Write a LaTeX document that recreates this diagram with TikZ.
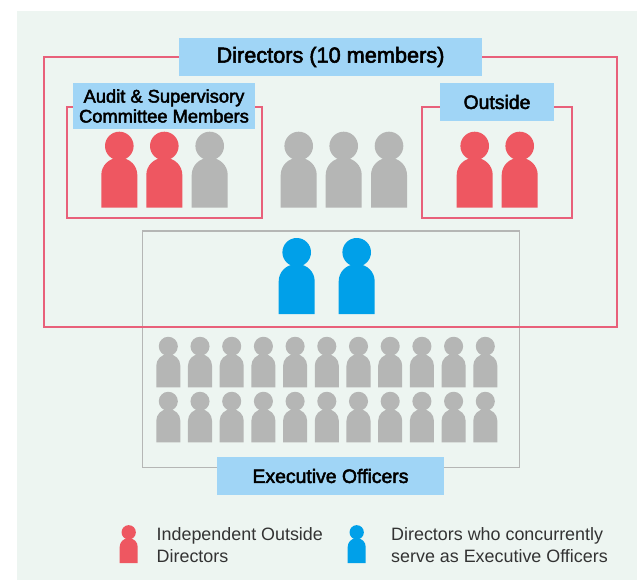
\documentclass[tikz,border=0pt]{standalone}
\usepackage{fontspec}
\setmainfont{Liberation Sans}
\newfontfamily\labelfont[FakeBold=2.5]{Liberation Sans}
\definecolor{bgtint}{HTML}{EDF5F1}
\definecolor{framered}{HTML}{E8607A}
\definecolor{personred}{HTML}{EE5761}
\definecolor{persongray}{HTML}{B5B6B5}
\definecolor{personblue}{HTML}{00A0E9}
\definecolor{labelblue}{HTML}{A0D5F6}
\definecolor{legendgray}{HTML}{333333}
\tikzset{
  redframe/.style={draw=framered, line width=2pt},
  grayframe/.style={draw=persongray, line width=1.5pt},
  labelbox/.style={fill=labelblue, inner sep=0pt, text=black, align=center, font=\labelfont\fontsize{19.4}{20}\selectfont},
  legendtext/.style={anchor=west, inner sep=0pt, align=left, text=legendgray, font=\fontsize{17.9}{22}\selectfont}
}
% head centre x, head centre y, size, colour
\newcommand{\person}[4]{
\fill [#4] (#1,#2) circle [radius=14.3*#3];
\fill [#4] (#1-18*#3,#2+61.7*#3) [rounded corners=#3*17pt] -- (#1-18*#3,#2+12*#3) -- (#1+18*#3,#2+12*#3) [sharp corners] -- (#1+18*#3,#2+61.7*#3) -- cycle;
}

\begin{document}
\begin{tikzpicture}[x=1pt, y=-1pt]
\useasboundingbox (0,0) rectangle (637,580);
\fill [bgtint] (17,11) rectangle (637,580);

\draw [grayframe] (142.3,231) rectangle (519.7,467.3);
\draw [redframe] (44.3,57.3) rectangle (617.3,327);
\draw [redframe] (67,106.7) rectangle (262,218);
\draw [redframe] (422.3,106.7) rectangle (572,218);

\node [labelbox, minimum width=303pt, minimum height=38pt, font=\labelfont\fontsize{21.7}{24}\selectfont] (directors) at (330.5,57) {\raisebox{-1.5pt}{Directors (10 members)}};
\node [labelbox, minimum width=182pt, minimum height=46pt, font=\labelfont\fontsize{18.3}{20}\selectfont] (audit) at (164,106) {Audit \& Supervisory\\Committee Members};
\node [labelbox, minimum width=114pt, minimum height=38pt] (outside) at (497,102) {Outside};
\node [labelbox, minimum width=227pt, minimum height=38pt] (executive) at (330.5,476) {Executive Officers};

\person{119.3}{146}{1}{personred}
\person{164.3}{146}{1}{personred}
\person{209.7}{146}{1}{persongray}
\person{298.7}{146}{1}{persongray}
\person{343.7}{146}{1}{persongray}
\person{389}{146}{1}{persongray}
\person{474.7}{146}{1}{personred}
\person{519.7}{146}{1}{personred}

\person{296.7}{252.3}{1}{personblue}
\person{356.7}{252.3}{1}{personblue}

\foreach \rowy in {346.3, 401.3} {
  \foreach \colx in {168.3, 200, 231.7, 263.4, 295.1, 326.8, 358.5, 390.2, 421.9, 453.6, 485.3} {
    \person{\colx}{\rowy}{.667}{persongray}
  }
}

\person{128.7}{532.3}{.5}{personred}
\person{356.7}{532.3}{.5}{personblue}
\node [legendtext] (legendred) at (156.5,545) {Independent Outside\\Directors};
\node [legendtext] (legendblue) at (391,545) {Directors who concurrently\\serve as Executive Officers};
\end{tikzpicture}
\end{document}
